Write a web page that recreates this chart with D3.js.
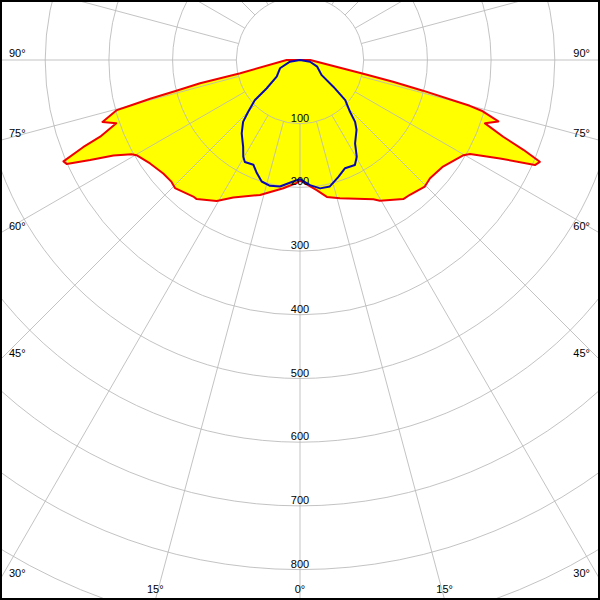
<!DOCTYPE html>
<html><head><meta charset="utf-8">
<script src="https://cdn.jsdelivr.net/npm/d3@7/dist/d3.min.js"></script>
<style>body{margin:0;background:#fff}svg{display:block}</style>
</head><body>
<svg id="c" width="600" height="600"></svg>
<script>
// ---- grid & labels ----
const ringValues = [100, 200, 300, 400, 500, 600, 700, 800, 900, 1000, 1100];
const ringLabels = ["100", "200", "300", "400", "500", "600", "700", "800"];
const spokeAngles = [0, 15, 30, 45, 60, 75, 90, 105, 120, 135, 150, 165, 180, 195, 210, 225, 240, 255, 270, 285, 300, 315, 330, 345];
const sideAngles = [90, 75, 60, 45, 30];
const sideLabels = ["90°", "75°", "60°", "45°", "30°"];
const bottomAngles = [-15, 0, 15];
const bottomLabels = ["15°", "0°", "15°"];

// ---- C0-C180 plane (red, filled) : gamma (deg from nadir) and cd/klm ----
const redLeftGamma = [0, 1.5, 7.4, 16.5, 25.9, 30.6, 36.6, 38, 44.3, 46.5, 50.3, 55.4, 59.8, 60.8, 62.9, 64.5, 66, 66.8, 68.1, 69, 71, 72.6, 74.7, 75, 75.5, 76, 76.9, 77.5, 90];
const redLeftValue = [189, 193, 203, 221, 240, 257, 272, 272, 281, 278, 279, 286, 297, 303, 329, 365, 401, 404, 367, 336, 305, 325, 298, 273, 243, 200, 161, 96, 21];
const redRightGamma = [0, 7.3, 11.1, 16.1, 27.8, 29.6, 36.6, 39.2, 44.6, 47.7, 53.3, 59.8, 61.1, 63.8, 65.9, 67, 68.1, 69.3, 71.1, 72.8, 74.4, 74.9, 76, 76.8, 77.8, 90];
const redRightValue = [189, 206, 219, 226, 247, 254, 272, 273, 279, 276, 280, 297, 305, 350, 404, 409, 378, 341, 307, 326, 296, 276, 199, 150, 100, 16];

// ---- C90-C270 plane (blue) ----
const blueLeftGamma = [0, 3.2, 9, 13.4, 17.5, 20.9, 24, 28.4, 30.4, 33.2, 38.5, 42.6, 45, 48.4, 49.6, 54.4, 67.5, 80.4, 90];
const blueLeftValue = [187, 191, 201, 203, 200, 190, 180, 182, 176, 163, 147, 132, 115, 95, 69, 45, 34, 16, 0];
const blueRightGamma = [0, 4.6, 8.9, 13.3, 18.2, 22.6, 27.6, 30.4, 33.4, 39, 41.7, 44, 48.4, 51.3, 55.3, 68.8, 80, 90];
const blueRightValue = [187, 197, 204, 204, 193, 184, 186, 176, 157, 141, 130, 113, 95, 67, 41, 29, 16, 0];

const W = 600, H = 600, cx = 300, cy = 60;
const r = d3.scaleLinear().domain([0, 100]).range([0, 63.7]);
const rad = d => d * Math.PI / 180;
const svg = d3.select("#c");
svg.append("rect").attr("width", W).attr("height", H).attr("fill", "#fff");
const g = svg.append("g").attr("transform", `translate(${cx},${cy})`);

function halfPoints(gam, val, side) {
  return gam.map((a, i) => ({ a: Math.PI - side * rad(a), r: r(val[i]) }));
}
function curvePts(lg, lv, rg, rv) {
  return halfPoints(lg, lv, -1).reverse().concat(halfPoints(rg, rv, 1));
}
const radial = d3.lineRadial().angle(d => d.a).radius(d => d.r).curve(d3.curveLinearClosed);

const redPts = curvePts(redLeftGamma, redLeftValue, redRightGamma, redRightValue);
const bluePts = curvePts(blueLeftGamma, blueLeftValue, blueRightGamma, blueRightValue);

// fill
g.append("path").attr("d", radial(redPts)).attr("fill", "#ffff00").attr("stroke", "none");

// grid
const grid = g.append("g").attr("fill", "none").attr("stroke", "#b8b8b8").attr("stroke-opacity", 0.85).attr("stroke-width", 1);
ringValues.forEach(v => grid.append("circle").attr("r", r(v)));
spokeAngles.forEach(a => {
  const s = Math.sin(rad(a)), c = Math.cos(rad(a));
  grid.append("line")
    .attr("x1", r(100) * s).attr("y1", r(100) * c)
    .attr("x2", r(1400) * s).attr("y2", r(1400) * c);
});

// labels
const font = "'Liberation Sans', Arial, sans-serif";
const lab = svg.append("g").attr("font-family", font).attr("font-size", "11px").attr("fill", "#000");
ringLabels.forEach(t => {
  lab.append("text").attr("x", cx).attr("y", cy + r(+t) - 2).attr("text-anchor", "middle").text(t);
});
sideAngles.forEach((a, i) => {
  const yEdge = cy + cx / Math.tan(rad(a)); // where spoke meets side edge
  lab.append("text").attr("x", 9).attr("y", yEdge - 3).attr("text-anchor", "start").text(sideLabels[i]);
  lab.append("text").attr("x", 590).attr("y", yEdge - 3).attr("text-anchor", "end").text(sideLabels[i]);
});
bottomAngles.forEach((a, i) => {
  const xEdge = cx + (H - cy) * Math.tan(rad(a));
  lab.append("text").attr("x", xEdge).attr("y", 593).attr("text-anchor", "middle").text(bottomLabels[i]);
});

// outlines
g.append("path").attr("d", radial(redPts)).attr("fill", "none").attr("stroke", "#ee0000").attr("stroke-width", 2).attr("stroke-linejoin", "round");
g.append("path").attr("d", radial(bluePts)).attr("fill", "none").attr("stroke", "#0808b0").attr("stroke-width", 2).attr("stroke-linejoin", "round");

// frame
svg.append("rect").attr("x", 1).attr("y", 1).attr("width", W - 2).attr("height", H - 2)
  .attr("fill", "none").attr("stroke", "#000").attr("stroke-width", 2);
</script>
</body></html>
